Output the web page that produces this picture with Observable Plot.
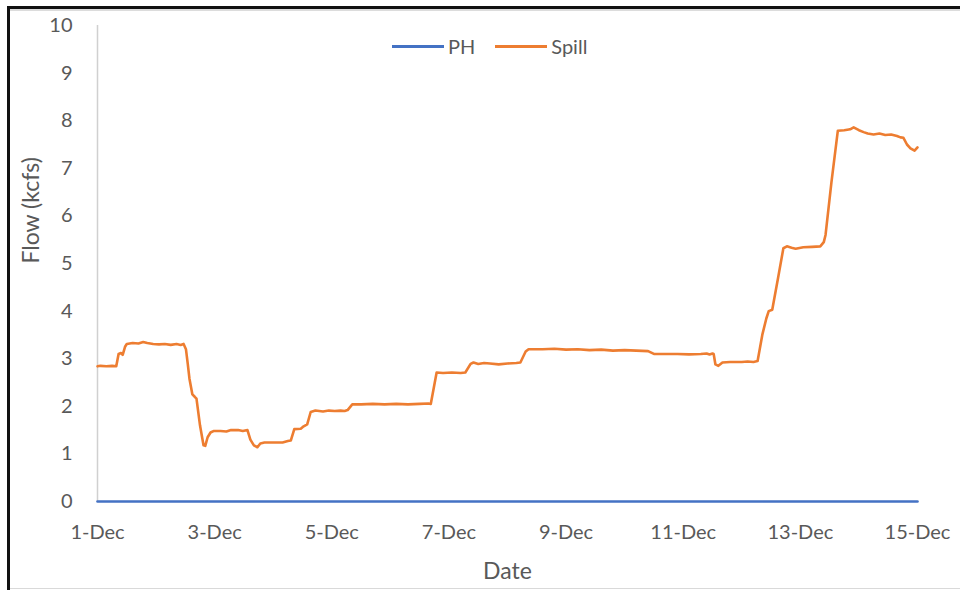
<!DOCTYPE html>
<html>
<head>
<meta charset="utf-8">
<script src="https://cdn.jsdelivr.net/npm/d3@7"></script>
<script src="https://cdn.jsdelivr.net/npm/@observablehq/plot@0.6"></script>
<style>
  html, body { margin: 0; padding: 0; background: #fff; }
  #wrap { position: relative; width: 960px; height: 590px; overflow: hidden; font-family: Lato, "Open Sans", sans-serif; }
  #frameTop { position: absolute; left: 7px; top: 6px; width: 953px; height: 3px; background: #111; }
  #frameTop2 { position: absolute; left: 10px; top: 9px; width: 950px; height: 2px; background: #dcdcdc; }
  #frameLeft { position: absolute; left: 7px; top: 6px; width: 3px; height: 584px; background: #111; }
  #frameBottom { position: absolute; left: 10px; top: 588px; width: 950px; height: 1px; background: #d9d9d9; }
  #legend { position: absolute; top: 34px; left: 392px; display: flex; align-items: center; font-size: 20px; color: #595959; }
  .item { display: flex; align-items: center; margin-right: 20px; }
  .sw { width: 52px; height: 3px; margin-right: 4px; }
  #chart { position: absolute; left: 0; top: 0; }
</style>
</head>
<body>
<div id="wrap">
  <div id="chart"></div>
  <div id="frameTop"></div>
  <div id="frameTop2"></div>
  <div id="frameLeft"></div>
  <div id="frameBottom"></div>
  <div id="legend"></div>
</div>
<script>
// ---- Data ----
const seriesNames = ["PH", "Spill"];
const seriesColors = ["#4472C4", "#ED7D31"];
const xTickLabels = ["1-Dec", "3-Dec", "5-Dec", "7-Dec", "9-Dec", "11-Dec", "13-Dec", "15-Dec"];
const yTicks = [0, 1, 2, 3, 4, 5, 6, 7, 8, 9, 10];

// days since 1-Dec 00:00
const phDays = [0, 1, 2, 3, 4, 5, 6, 7, 8, 9, 10, 11, 12, 13, 14];
const phFlow = [0, 0, 0, 0, 0, 0, 0, 0, 0, 0, 0, 0, 0, 0, 0];

const spillDays = [
  0, 0.05, 0.15, 0.25, 0.32, 0.36, 0.40, 0.43, 0.47, 0.50,
  0.60, 0.70, 0.78, 0.85, 0.95, 1.05, 1.15, 1.25, 1.35, 1.42,
  1.47, 1.51, 1.54, 1.57, 1.62, 1.66, 1.69, 1.75, 1.81, 1.84,
  1.88, 1.93, 1.98, 2.10, 2.20, 2.28, 2.40, 2.48, 2.56, 2.61,
  2.67, 2.73, 2.78, 2.85, 3.00, 3.16, 3.25, 3.30, 3.36, 3.47,
  3.52, 3.58, 3.64, 3.72, 3.85, 3.95, 4.05, 4.15, 4.22, 4.27,
  4.35, 4.50, 4.70, 4.90, 5.10, 5.30, 5.50, 5.65, 5.69, 5.79,
  5.90, 6.05, 6.20, 6.28, 6.37, 6.42, 6.50, 6.60, 6.70, 6.85,
  7.00, 7.15, 7.22, 7.31, 7.36, 7.60, 7.80, 8.00, 8.20, 8.40,
  8.60, 8.80, 9.00, 9.20, 9.40, 9.50, 9.70, 9.90, 10.10, 10.30,
  10.40, 10.45, 10.50, 10.52, 10.55, 10.60, 10.67, 10.80, 11.00, 11.10,
  11.20, 11.27, 11.35, 11.42, 11.46, 11.52, 11.62, 11.71, 11.77, 11.85,
  11.92, 12.05, 12.20, 12.34, 12.40, 12.43, 12.53, 12.64, 12.75, 12.85,
  12.91, 13.00, 13.08, 13.15, 13.25, 13.35, 13.45, 13.55, 13.65, 13.71,
  13.76, 13.82, 13.88, 13.95, 14.00
];
const spillFlow = [
  2.84, 2.85, 2.84, 2.85, 2.84, 3.10, 3.12, 3.08, 3.25, 3.31,
  3.33, 3.32, 3.35, 3.33, 3.31, 3.30, 3.31, 3.29, 3.31, 3.29,
  3.31, 3.20, 2.90, 2.58, 2.25, 2.20, 2.16, 1.60, 1.18, 1.17,
  1.35, 1.45, 1.48, 1.48, 1.47, 1.50, 1.50, 1.48, 1.50, 1.30,
  1.18, 1.14, 1.22, 1.24, 1.24, 1.24, 1.27, 1.28, 1.52, 1.53,
  1.58, 1.62, 1.88, 1.91, 1.89, 1.91, 1.90, 1.91, 1.90, 1.92,
  2.04, 2.04, 2.05, 2.04, 2.05, 2.04, 2.05, 2.06, 2.05, 2.71,
  2.70, 2.71, 2.70, 2.71, 2.89, 2.92, 2.89, 2.91, 2.90, 2.88,
  2.90, 2.91, 2.92, 3.15, 3.20, 3.20, 3.21, 3.19, 3.20, 3.18,
  3.19, 3.17, 3.18, 3.17, 3.16, 3.10, 3.10, 3.10, 3.09, 3.10,
  3.11, 3.09, 3.11, 3.10, 2.88, 2.85, 2.92, 2.93, 2.93, 2.94,
  2.93, 2.95, 3.50, 3.85, 4.00, 4.03, 4.70, 5.32, 5.36, 5.33,
  5.31, 5.34, 5.35, 5.36, 5.45, 5.60, 6.70, 7.79, 7.80, 7.82,
  7.86, 7.80, 7.76, 7.73, 7.71, 7.73, 7.70, 7.71, 7.68, 7.65,
  7.64, 7.50, 7.42, 7.37, 7.44
];

// ---- Build ----
const t0 = Date.UTC(2020, 11, 1);
const toDate = d => new Date(t0 + d * 864e5);
const rows = [
  ...phDays.map((d, i) => ({series: seriesNames[0], date: toDate(d), flow: phFlow[i]})),
  ...spillDays.map((d, i) => ({series: seriesNames[1], date: toDate(d), flow: spillFlow[i]}))
];
const xTicks = xTickLabels.map(s => toDate(parseInt(s) - 1));
const xLabelMap = new Map(xTicks.map((t, i) => [+t, xTickLabels[i]]));

const font = "Lato, 'Open Sans', sans-serif";
const chart = Plot.plot({
  width: 960,
  height: 590,
  marginLeft: 97,
  marginRight: 43,
  marginTop: 25,
  marginBottom: 89,
  style: {fontFamily: font, fontSize: "20px", color: "#595959", background: "transparent"},
  x: {type: "utc", domain: [toDate(0), toDate(14)]},
  y: {domain: [0, 10]},
  color: {domain: seriesNames, range: seriesColors},
  marks: [
    Plot.ruleX([toDate(0)], {stroke: "#d0d0d0", strokeWidth: 1.5}),
    Plot.axisY({ticks: yTicks, tickSize: 0, tickPadding: 25, label: null, fontSize: 20, fill: "#595959"}),
    Plot.axisX({ticks: xTicks, tickSize: 0, tickPadding: 23, label: null, fontSize: 20, fill: "#595959",
      tickFormat: d => xLabelMap.get(+d)}),
    Plot.line(rows, {x: "date", y: "flow", stroke: "series", z: "series", strokeWidth: 2.6, curve: "linear"}),
    Plot.text(["Date"], {frameAnchor: "bottom", dy: 77, fontSize: 23, fill: "#595959"}),
    Plot.text(["Flow (kcfs)"], {frameAnchor: "left", dx: -66, rotate: -90, fontSize: 23, fill: "#595959"})
  ]
});
document.getElementById("chart").appendChild(chart);

const legend = document.getElementById("legend");
seriesNames.forEach((n, i) => {
  const it = document.createElement("div");
  it.className = "item";
  const sw = document.createElement("div");
  sw.className = "sw";
  sw.style.background = seriesColors[i];
  const lb = document.createElement("span");
  lb.textContent = n;
  it.appendChild(sw); it.appendChild(lb);
  legend.appendChild(it);
});
</script>
</body>
</html>
